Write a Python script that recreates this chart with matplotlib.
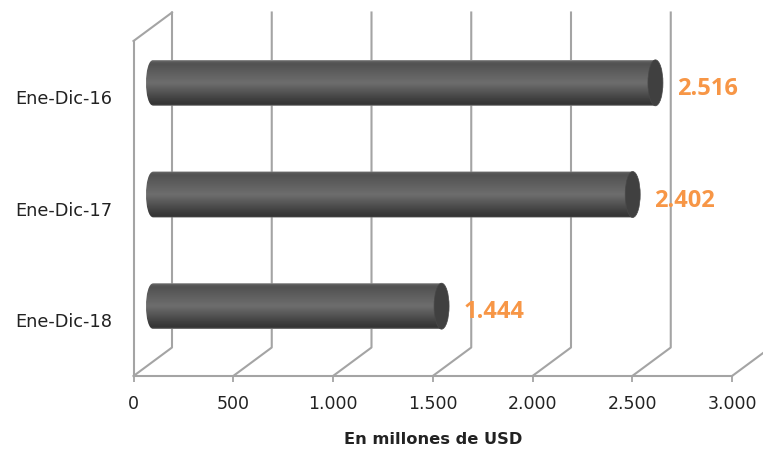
import numpy as np
import matplotlib
matplotlib.use("Agg")
import matplotlib.pyplot as plt
from matplotlib.path import Path
from matplotlib.patches import PathPatch, Ellipse

# Data
periods = ['Ene-Dic-18', 'Ene-Dic-17', 'Ene-Dic-16']
values = [1444, 2402, 2516]
value_labels = ['1.444', '2.402', '2.516']
x_ticks = [0, 500, 1000, 1500, 2000, 2500, 3000]
x_tick_labels = ['0', '500', '1.000', '1.500', '2.000', '2.500', '3.000']

W, H = 763, 453
grid_color = '#a4a4a4'
label_color = '#f79646'
text_color = '#222222'
tick_font = ['DejaVu Sans']
value_font = ['Open Sans', 'DejaVu Sans']

fig = plt.figure(figsize=(W / 100, H / 100), dpi=100)
ax = fig.add_axes([133.5 / W, 1 - 376 / H, (732 - 133.5) / W, (376 - 41) / H])
ax.set_xlim(0, 3000)
ax.set_ylim(-0.5, 2.5)

# 3d effect, in data units
depth_x = 38.5 * 3000 / 598.5
depth_y = 28.5 * 3 / 335
bar_dx = 20 * 3000 / 598.5
bar_dy = 14 * 3 / 335
cap_w = 15 * 3000 / 598.5
bar_h = 46 * 3 / 335

# walls and floor
for t in x_ticks:
    ax.plot([t, t + depth_x, t + depth_x], [-0.5, -0.5 + depth_y, 2.5 + depth_y],
            color=grid_color, lw=1.5, clip_on=False, zorder=1)
ax.plot([0, depth_x], [2.5, 2.5 + depth_y], color=grid_color, lw=1.5, clip_on=False, zorder=1)

# gradient across the cylinder
gy = [0.0, 0.03, 0.08, 0.5, 0.85, 0.97, 1.0]
gc = [0.60, 0.36, 0.32, 0.43, 0.25, 0.20, 0.55]
grad = np.interp(np.linspace(0, 1, 256), gy, gc).reshape(-1, 1)

for i, v in enumerate(values):
    x0 = bar_dx
    x1 = v + bar_dx
    yc = i + bar_dy
    y0, y1 = yc - bar_h / 2, yc + bar_h / 2
    bulge = cap_w / 2 / 0.75
    verts = [(x0, y1), (x1, y1), (x1, y0), (x0, y0),
             (x0 - bulge, y0), (x0 - bulge, y1), (x0, y1)]
    codes = [Path.MOVETO, Path.LINETO, Path.LINETO, Path.LINETO,
             Path.CURVE4, Path.CURVE4, Path.CURVE4]
    clip = PathPatch(Path(verts, codes), transform=ax.transData, fc='none', ec='none')
    ax.add_patch(clip)
    im = ax.imshow(grad, cmap='gray', vmin=0, vmax=1, aspect='auto', interpolation='bilinear',
                   extent=(x0 - cap_w / 2, x1, y0, y1), zorder=3)
    im.set_clip_path(clip)
    ax.add_patch(Ellipse((x1, yc), cap_w, bar_h, fc='#404040', ec='#484848', lw=0.5, zorder=4))
    ax.annotate(value_labels[i], (v, i), xytext=(72, 8), textcoords='offset pixels',
                ha='center', va='center', color=label_color, fontsize=17,
                fontweight='bold', family=value_font, zorder=5, annotation_clip=False)

ax.set_xlim(0, 3000)
ax.set_ylim(-0.5, 2.5)

for s in ['top', 'right']:
    ax.spines[s].set_visible(False)
for s in ['left', 'bottom']:
    ax.spines[s].set_color(grid_color)
    ax.spines[s].set_linewidth(1.5)
ax.patch.set_visible(False)

ax.set_xticks(x_ticks)
ax.set_xticklabels(x_tick_labels, family=tick_font, fontsize=12.5, color=text_color)
ax.set_yticks(range(len(periods)))
ax.set_yticklabels(periods, family=tick_font, fontsize=12.8, color=text_color)
ax.tick_params(axis='x', length=4, width=1.3, color=grid_color, pad=10)
ax.tick_params(axis='y', length=0, pad=15)

fig.text(433 / W, 1 - 440 / H, 'En millones de USD', ha='center', va='center',
         family=tick_font, fontsize=11.7, fontweight='bold', color=text_color)

fig.savefig('out.png', dpi=100)
